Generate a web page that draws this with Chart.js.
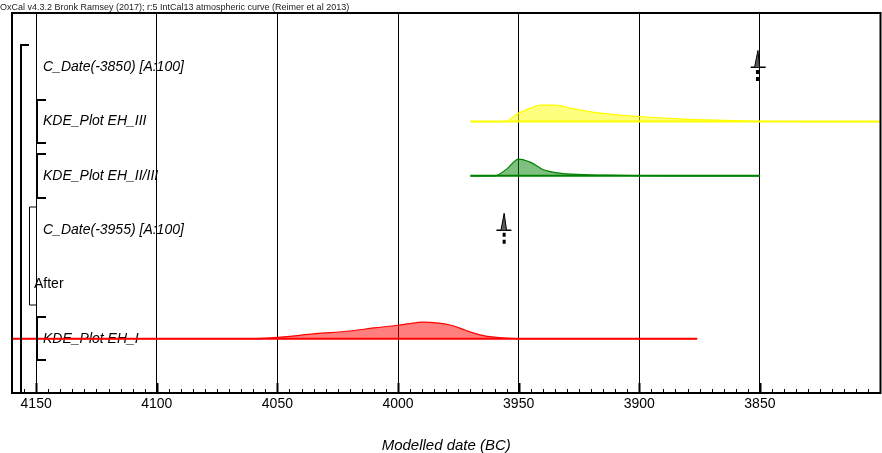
<!DOCTYPE html>
<html><head><meta charset="utf-8">
<style>html,body{margin:0;padding:0;background:#fff;}canvas{display:block;}</style>
<script src="https://cdn.jsdelivr.net/npm/chart.js@4.4.1/dist/chart.umd.min.js"></script>
</head><body>
<canvas id="c" width="882" height="453"></canvas>
<script>
// ---- data ----
const headerText = 'OxCal v4.3.2 Bronk Ramsey (2017); r:5 IntCal13 atmospheric curve (Reimer et al 2013)';
const axisTitle = 'Modelled date (BC)';
const rowLabels = ['C_Date(-3850) [A:100]', 'KDE_Plot EH_III', 'KDE_Plot EH_II/III', 'C_Date(-3955) [A:100]', 'After', 'KDE_Plot EH_I'];
const rowPositions = [1, 2, 3, 4, 5, 6];
const xTickValues = [4150, 4100, 4050, 4000, 3950, 3900, 3850];

// KDE_Plot EH_III (row 2)
const ehIIIYears = [3970, 3956, 3950, 3945, 3941, 3935, 3928, 3920, 3913, 3900, 3886, 3872, 3850, 3830, 3800];
const ehIIIDens  = [0, 0, 0.5, 0.8, 0.98, 0.98, 0.78, 0.58, 0.46, 0.3, 0.18, 0.1, 0.02, 0, 0];
// KDE_Plot EH_II/III (row 3)
const ehIIYears = [3970, 3960, 3955, 3950, 3945, 3940, 3934, 3928, 3914, 3900, 3880, 3850];
const ehIIDens  = [0, 0, 0.4, 1.0, 0.8, 0.38, 0.18, 0.1, 0.04, 0.015, 0, 0];
// KDE_Plot EH_I (row 6)
const ehIYears = [4165, 4060, 4050, 4034, 4020, 4010, 4000, 3995, 3990, 3984, 3978, 3972, 3965, 3958, 3951, 3945, 3876];
const ehIDens  = [0, 0, 0.08, 0.3, 0.46, 0.64, 0.8, 0.9, 0.98, 0.94, 0.8, 0.5, 0.2, 0.06, 0.01, 0, 0];
// C_Date(-3850) (row 1)
const cd3850Years = [3852.2, 3850.8, 3850.1];
const cd3850Dens  = [0, 1, 0];
const cd3850Range = [3853.8, 3847.6];
const cd3850Point = 3851;
// C_Date(-3955) (row 4)
const cd3955Years = [3957.3, 3956, 3955];
const cd3955Dens  = [0, 1, 0];
const cd3955Range = [3959.2, 3953];
const cd3955Point = 3956;

const H = 0.31; // height of a full-probability peak, in row units

function curve(years, dens, row) { return years.map((yr, i) => ({x: yr, y: row - dens[i] * H})); }
function base(years, row) { return [{x: years[0], y: row}, {x: years[years.length - 1], y: row}]; }

const FONT = "'Liberation Sans', Arial, sans-serif";

const datasets = [
  {data: curve(ehIIIYears, ehIIIDens, 2), borderColor: '#FFFF00', backgroundColor: 'rgba(255,255,0,0.5)', borderWidth: 1.2, fill: {value: 2}, cubicInterpolationMode: 'monotone'},
  {data: base(ehIIIYears, 2), borderColor: '#FFFF00', borderWidth: 2, fill: false},
  {data: curve(ehIIYears, ehIIDens, 3), borderColor: '#008000', backgroundColor: 'rgba(0,128,0,0.5)', borderWidth: 1.2, fill: {value: 3}, cubicInterpolationMode: 'monotone'},
  {data: base(ehIIYears, 3), borderColor: '#008000', borderWidth: 2, fill: false},
  {data: curve(ehIYears, ehIDens, 6), borderColor: '#FF0000', backgroundColor: 'rgba(255,0,0,0.5)', borderWidth: 1.2, fill: {value: 6}, cubicInterpolationMode: 'monotone'},
  {data: base(ehIYears, 6), borderColor: '#FF0000', borderWidth: 2, fill: false},
  {data: curve(cd3850Years, cd3850Dens, 1), borderColor: '#000', backgroundColor: '#5a5a5a', borderWidth: 1, fill: {value: 1}, tension: 0},
  {data: base(cd3850Range, 1), borderColor: '#000', borderWidth: 1.5, fill: false},
  {data: [{x: cd3850Point, y: 1.05}, {x: cd3850Point, y: 1.26}], borderColor: '#000', borderWidth: 3, borderDash: [4, 3], fill: false},
  {data: curve(cd3955Years, cd3955Dens, 4), borderColor: '#000', backgroundColor: '#5a5a5a', borderWidth: 1, fill: {value: 4}, tension: 0},
  {data: base(cd3955Range, 4), borderColor: '#000', borderWidth: 1.5, fill: false},
  {data: [{x: cd3955Point, y: 4.05}, {x: cd3955Point, y: 4.26}], borderColor: '#000', borderWidth: 3, borderDash: [4, 3], fill: false}
];
datasets.forEach(d => { d.pointRadius = 0; d.pointHoverRadius = 0; });

const structPlugin = {
  id: 'struct',
  beforeDatasetsDraw(chart) {
    const {ctx, chartArea: a, scales: {y}} = chart;
    ctx.save();
    ctx.fillStyle = '#000';
    ctx.textBaseline = 'middle';
    ctx.textAlign = 'left';
    rowLabels.forEach((t, i) => {
      const py = y.getPixelForValue(rowPositions[i]);
      if (t === 'After') { ctx.font = '14px ' + FONT; ctx.fillText(t, a.left + 22, py); }
      else { ctx.font = 'italic 14px ' + FONT; ctx.fillText(t, a.left + 31, py); }
    });
    ctx.restore();
  },
  afterDraw(chart) {
    const {ctx, chartArea: a, scales: {x, y}} = chart;
    ctx.save();
    ctx.strokeStyle = '#000';
    // minor and major ticks
    for (let v = 3805; v <= 4155; v += 5) {
      const px = Math.round(x.getPixelForValue(v)) + 0.5;
      const major = v % 50 === 0;
      ctx.lineWidth = major ? 2 : 1;
      ctx.beginPath();
      ctx.moveTo(px, a.bottom);
      ctx.lineTo(px, a.bottom - (major ? 10 : 4));
      ctx.stroke();
    }
    // brackets
    const br = (xPos, arm, top, bottom, lw, drawBottom) => {
      const yt = Math.round(y.getPixelForValue(top)), yb = Math.round(y.getPixelForValue(bottom));
      ctx.lineWidth = lw;
      ctx.beginPath();
      ctx.moveTo(a.left + arm, yt);
      ctx.lineTo(a.left + xPos, yt);
      ctx.lineTo(a.left + xPos, yb);
      if (drawBottom) ctx.lineTo(a.left + arm, yb);
      ctx.stroke();
    };
    br(9, 17, 0.59, 7, 2, false);
    br(25, 34, 1.6, 2.4, 2, true);
    br(25, 34, 2.6, 3.4, 2, true);
    br(17.5, 25, 3.58, 5.38, 1, true);
    br(25, 34, 5.6, 6.4, 2, true);
    // frame
    ctx.lineWidth = 2;
    ctx.strokeRect(a.left, a.top, a.right - a.left, a.bottom - a.top);
    ctx.restore();
  }
};

new Chart(document.getElementById('c'), {
  type: 'line',
  data: {datasets},
  plugins: [structPlugin],
  options: {
    responsive: false,
    animation: false,
    devicePixelRatio: 1,
    layout: {padding: {left: 0, right: 1.5, top: 0, bottom: 0}},
    plugins: {
      legend: {display: false},
      tooltip: {enabled: false},
      title: {display: true, text: headerText, align: 'start', color: '#222', font: {family: FONT, size: 9, weight: 'normal'}, padding: {top: 2, bottom: 0.2}}
    },
    scales: {
      x: {
        type: 'linear', reverse: true, min: 3800, max: 4160,
        afterBuildTicks(s) { s.ticks = xTickValues.map(v => ({value: v})); },
        grid: {color: '#000', lineWidth: 1, drawTicks: false},
        border: {display: false},
        ticks: {color: '#000', font: {family: FONT, size: 14}, padding: 3, maxRotation: 0, autoSkip: false, callback: v => String(v)},
        title: {display: true, text: axisTitle, color: '#000', font: {family: FONT, size: 15, style: 'italic', lineHeight: 0.9}, padding: {top: 23.7, bottom: 0}}
      },
      y: {
        type: 'linear', reverse: true, min: 0, max: 7,
        ticks: {display: false}, grid: {display: false}, border: {display: false},
        afterFit(s) { s.width = 12; }
      }
    }
  }
});
</script>
</body></html>
